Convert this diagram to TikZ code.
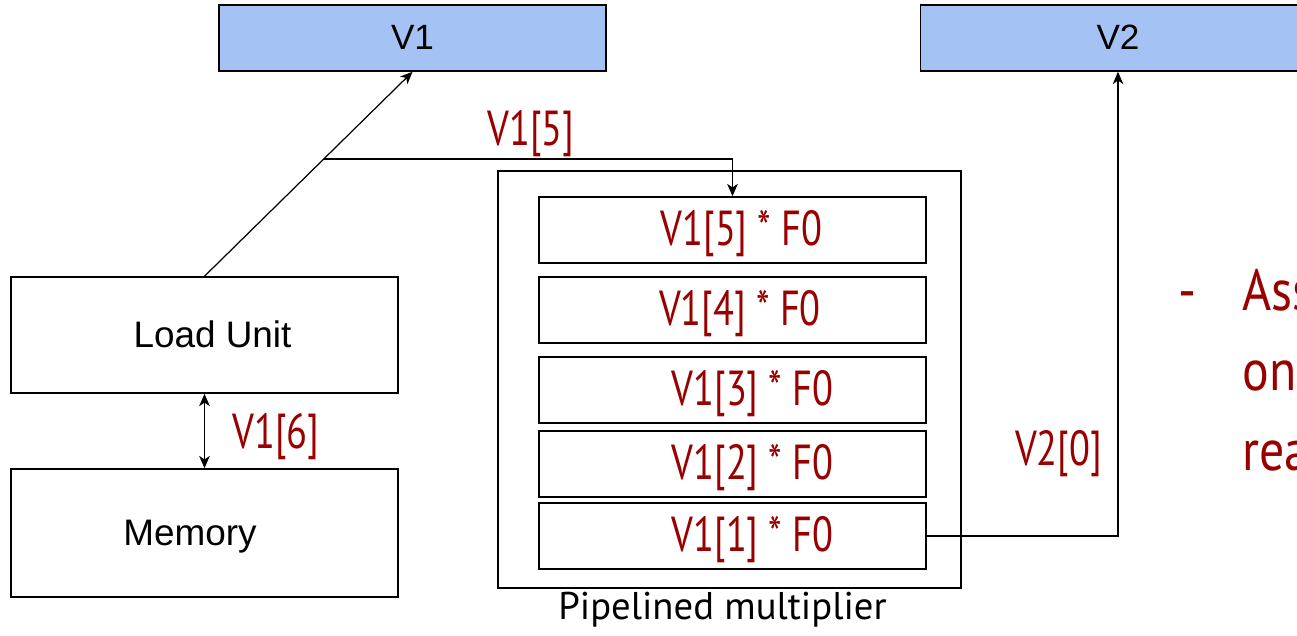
\documentclass[tikz,border=0pt]{standalone}
\usepackage{fontspec}
\usetikzlibrary{arrows.meta,calc}
\newfontfamily\arialfont{Liberation Sans}
\newfontfamily\narrowfont[FakeStretch=0.78]{PT Sans}
\newfontfamily\notefont[FakeStretch=0.86]{PT Sans}
\newfontfamily\ptfont{PT Sans}
\definecolor{regblue}{HTML}{A4C2F4}
\definecolor{darkred}{HTML}{990000}
\tikzset{
  box/.style={draw,line width=0.9pt,inner sep=0pt,minimum width=7.74cm,minimum height=1.32cm},
  reg/.style={box,fill=regblue,text height=13.6pt,text depth=0pt,font=\arialfont\fontsize{20}{24}\selectfont},
  unit/.style={box,text height=14.2pt,text depth=0pt,font=\arialfont\fontsize{21}{25}\selectfont},
  stage/.style={box,text=darkred,text height=18.1pt,text depth=0pt,font=\narrowfont\fontsize{28}{32}\selectfont},
  tag/.style={anchor=base,text=darkred,font=\narrowfont\fontsize{28}{32}\selectfont,inner sep=0pt},
  note/.style={anchor=base west,text=darkred,font=\notefont\fontsize{33}{36}\selectfont,inner sep=0pt},
  wire/.style={line width=0.7pt,-{Stealth[length=7pt,width=6pt,inset=2pt]}}
}
\begin{document}
\begin{tikzpicture}[x=0.02cm,y=-0.02cm]
  \useasboundingbox (0,0) rectangle (1297,635);
  \clip (0,0) rectangle (1297,635);
  % registers
  \node[reg] (v1) at (412.5,38) {V1};
  \node[reg,minimum width=7.9cm] (v2) at (1118,38) {V2};
  % load path
  \node[unit,minimum height=2.32cm] (lu) at (204.5,335) {\hspace*{0.32cm}Load Unit};
  \node[unit,minimum height=2.56cm] (mem) at (204.5,533) {Memory\hspace*{0.58cm}};
  \draw[line width=0.7pt,{Stealth[length=7pt,width=6pt,inset=2pt]}-{Stealth[length=7pt,width=6pt,inset=2pt]}] (lu.south) -- (mem.north);
  \node[tag] (l6) at (276,448) {V1[6]};
  % multiplier
  \node[box,minimum width=9.26cm,minimum height=8.34cm] (mul) at (729.5,379.5) {};
  \node[anchor=base,font=\ptfont\fontsize{22}{26}\selectfont,inner sep=0pt] (mullbl) at (722.5,619) {Pipelined multiplier};
  \node[stage] (s5) at (732.5,230) {\hspace*{0.36cm}V1[5] * F0};
  \node[stage] (s4) at (732.5,310) {\hspace*{0.3cm}V1[4] * F0};
  \node[stage] (s3) at (732.5,390) {\hspace*{0.8cm}V1[3] * F0};
  \node[stage] (s2) at (732.5,464) {\hspace*{0.8cm}V1[2] * F0};
  \node[stage] (s1) at (732.5,536) {\hspace*{0.8cm}V1[1] * F0};
  % connectors
  \draw[wire] (lu.north) -- (v1.south);
  \coordinate (split) at ($(lu.north)!0.573!(v1.south)$);
  \draw[wire] (split) -| (s5.north);
  \node[tag] (l5) at (531,145) {V1[5]};
  \draw[wire] (s1.east) -| (v2.south);
  \node[tag] (l0) at (1058.5,465) {V2[0]};
  % note on the right
  \node[note] (dash) at (1178,310) {-};
  \node[note] (n1) at (1242,310) {Ass};
  \node[note] (n2) at (1242,390) {one};
  \node[note] (n3) at (1242,470) {rea};
\end{tikzpicture}
\end{document}
